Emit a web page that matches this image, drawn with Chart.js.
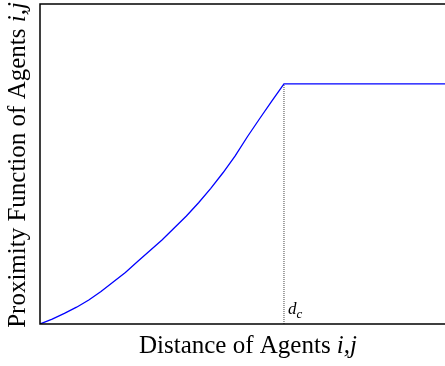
<!DOCTYPE html>
<html>
<head>
<meta charset="utf-8">
<script src="https://cdn.jsdelivr.net/npm/chart.js@4/dist/chart.umd.min.js"></script>
<style>
    html, body { margin: 0; padding: 0; background: #fff; }
    #wrap { width: 445px; height: 366px; }
</style>
</head>
<body>
<div id="wrap"><canvas id="myChart"></canvas></div>
<script>
// distance (in units of d_c) and proximity values
const distX = [0, 0.05, 0.1, 0.15, 0.2, 0.25, 0.3, 0.35, 0.4, 0.45, 0.5, 0.55, 0.6, 0.65, 0.7, 0.75, 0.8, 0.85, 0.9, 0.95, 1, 1.66];
const proximityY = [0, 0.02, 0.044, 0.07, 0.1, 0.135, 0.175, 0.215, 0.26, 0.305, 0.35, 0.4, 0.45, 0.505, 0.565, 0.63, 0.7, 0.78, 0.855, 0.928, 1, 1];
const dcX = [1, 1];
const dcY = [0, 1];
const xMax = 1.66;
const yMax = 1.333;

const serif = '"Liberation Serif", "Times New Roman", serif';

// draw a run of text pieces, each with its own font
const drawPieces = (c, pieces, x, y, align) => {
    let total = 0;
    pieces.forEach(p => { c.font = p.font; total += c.measureText(p.text).width; });
    let cx = align === 'center' ? x - total / 2 : x;
    pieces.forEach(p => {
        c.font = p.font;
        c.fillText(p.text, cx, y + (p.dy || 0));
        cx += c.measureText(p.text).width;
    });
};

const labelsPlugin = {
    id: 'labels',
    afterDraw(chart) {
        const c = chart.ctx;
        const a = chart.chartArea;
        c.save();
        // box
        c.strokeStyle = '#000';
        c.lineWidth = 1.5;
        c.beginPath();
        c.moveTo(a.right + 2, a.top);
        c.lineTo(a.left, a.top);
        c.lineTo(a.left, a.bottom);
        c.lineTo(a.right + 2, a.bottom);
        c.stroke();

        c.fillStyle = '#000';
        c.textBaseline = 'alphabetic';
        const up = '25px ' + serif;
        const it = 'italic 25px ' + serif;
        drawPieces(c, [
            { text: 'Distance of Agents ', font: up },
            { text: 'i,j', font: it }
        ], 248, 353, 'center');

        c.translate(25, 165);
        c.rotate(-Math.PI / 2);
        drawPieces(c, [
            { text: 'Proximity Function of Agents ', font: up },
            { text: 'i,j', font: it }
        ], 0, 0, 'center');
        c.restore();

        // d_c label next to the dotted line
        c.save();
        c.fillStyle = '#000';
        const px = chart.scales.x.getPixelForValue(dcX[0]);
        drawPieces(c, [
            { text: 'd', font: 'italic 17px ' + serif },
            { text: 'c', font: 'italic 13px ' + serif, dy: 4 }
        ], px + 4, 314, 'left');
        c.restore();
    }
};

const ctx = document.getElementById('myChart');
new Chart(ctx, {
    type: 'line',
    data: {
        datasets: [
            {
                data: distX.map((x, i) => ({ x: x, y: proximityY[i] })),
                borderColor: '#0000ff',
                borderWidth: 1.3,
                pointRadius: 0,
                tension: 0,
                fill: false
            },
            {
                data: dcX.map((x, i) => ({ x: x, y: dcY[i] })),
                borderColor: '#444',
                borderWidth: 1,
                borderDash: [1, 1],
                pointRadius: 0,
                fill: false
            }
        ]
    },
    options: {
        responsive: true,
        maintainAspectRatio: false,
        animation: false,
        layout: { padding: { left: 40, top: 4, right: 0, bottom: 42 } },
        plugins: {
            legend: { display: false },
            tooltip: { enabled: false }
        },
        scales: {
            x: { type: 'linear', display: false, min: 0, max: xMax },
            y: { type: 'linear', display: false, min: 0, max: yMax }
        }
    },
    plugins: [labelsPlugin]
});
</script>
</body>
</html>
